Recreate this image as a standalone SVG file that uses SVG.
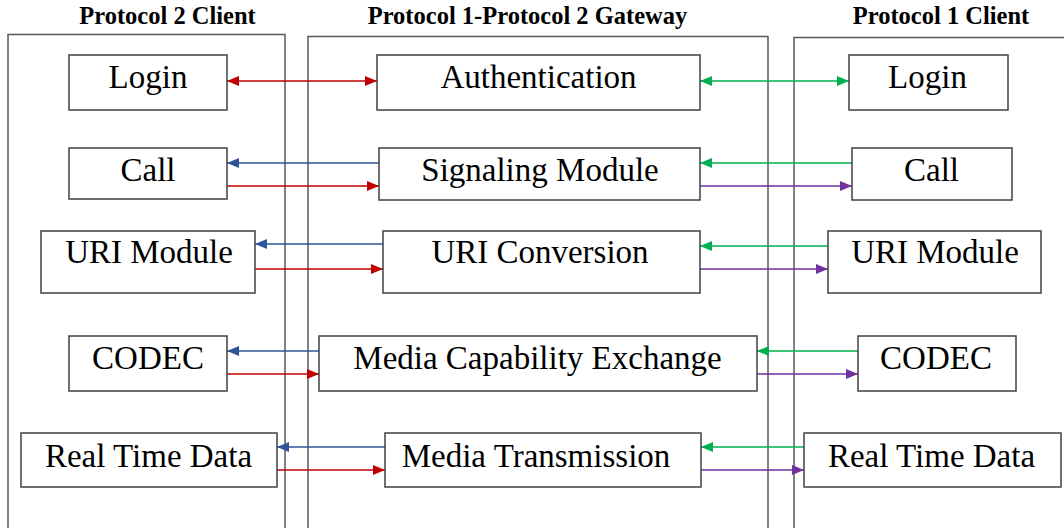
<svg xmlns="http://www.w3.org/2000/svg" width="1064" height="528" viewBox="0 0 1064 528">
<style>
.panel{fill:none;stroke:#595959;stroke-width:1.5}
.box{fill:#fff;stroke:#404040;stroke-width:1.5}
.hdr{font-family:"Liberation Serif","Times New Roman",serif;font-weight:bold;font-size:24.5px;fill:#000;text-anchor:middle}
.lbl{font-family:"Liberation Serif","Times New Roman",serif;font-size:33px;fill:#000;text-anchor:middle}
.r{stroke:#c00000;stroke-width:1.6;fill:none}
.b{stroke:#2f5597;stroke-width:1.6;fill:none}
.g{stroke:#00b050;stroke-width:1.6;fill:none}
.p{stroke:#7030a0;stroke-width:1.6;fill:none}
</style>
<defs>
<marker id="mr" markerUnits="userSpaceOnUse" markerWidth="12" markerHeight="10" refX="12" refY="5" orient="auto-start-reverse"><path d="M0,0L12,5L0,10z" fill="#c00000"/></marker>
<marker id="mb" markerUnits="userSpaceOnUse" markerWidth="12" markerHeight="10" refX="12" refY="5" orient="auto-start-reverse"><path d="M0,0L12,5L0,10z" fill="#2f5597"/></marker>
<marker id="mg" markerUnits="userSpaceOnUse" markerWidth="12" markerHeight="10" refX="12" refY="5" orient="auto-start-reverse"><path d="M0,0L12,5L0,10z" fill="#00b050"/></marker>
<marker id="mp" markerUnits="userSpaceOnUse" markerWidth="12" markerHeight="10" refX="12" refY="5" orient="auto-start-reverse"><path d="M0,0L12,5L0,10z" fill="#7030a0"/></marker>
</defs>
<rect width="1064" height="528" fill="#fff"/>
<g id="panels">
<rect class="panel" x="8" y="34.5" width="277" height="520"/>
<rect class="panel" x="308" y="36.5" width="460" height="520"/>
<rect class="panel" x="794" y="37.5" width="300" height="520"/>
<text class="hdr" x="167.5" y="24">Protocol 2 Client</text>
<text class="hdr" x="527.5" y="24">Protocol 1-Protocol 2 Gateway</text>
<text class="hdr" x="941" y="24">Protocol 1 Client</text>
</g>
<g id="connectors">
<line class="r" x1="227" y1="81" x2="377" y2="81" marker-start="url(#mr)" marker-end="url(#mr)"/>
<line class="g" x1="700" y1="81" x2="849" y2="81" marker-start="url(#mg)" marker-end="url(#mg)"/>
<line class="b" x1="379" y1="163" x2="227" y2="163" marker-end="url(#mb)"/>
<line class="r" x1="227" y1="186" x2="379" y2="186" marker-end="url(#mr)"/>
<line class="g" x1="852" y1="163" x2="700" y2="163" marker-end="url(#mg)"/>
<line class="p" x1="700" y1="186" x2="852" y2="186" marker-end="url(#mp)"/>
<line class="b" x1="383" y1="244" x2="255" y2="244" marker-end="url(#mb)"/>
<line class="r" x1="255" y1="269" x2="383" y2="269" marker-end="url(#mr)"/>
<line class="g" x1="828" y1="246" x2="700" y2="246" marker-end="url(#mg)"/>
<line class="p" x1="700" y1="269" x2="828" y2="269" marker-end="url(#mp)"/>
<line class="b" x1="319" y1="351" x2="227" y2="351" marker-end="url(#mb)"/>
<line class="r" x1="227" y1="374" x2="319" y2="374" marker-end="url(#mr)"/>
<line class="g" x1="858" y1="351" x2="757" y2="351" marker-end="url(#mg)"/>
<line class="p" x1="755" y1="374" x2="858" y2="374" marker-end="url(#mp)"/>
<line class="b" x1="385" y1="447" x2="277" y2="447" marker-end="url(#mb)"/>
<line class="r" x1="274" y1="470" x2="385" y2="470" marker-end="url(#mr)"/>
<line class="g" x1="804" y1="447" x2="701" y2="447" marker-end="url(#mg)"/>
<line class="p" x1="701" y1="470" x2="804" y2="470" marker-end="url(#mp)"/>
</g>
<g id="p2-login"><rect class="box" x="69" y="55" width="158" height="55"/><text class="lbl" x="148" y="88">Login</text></g>
<g id="p2-call"><rect class="box" x="69" y="148" width="158" height="51"/><text class="lbl" x="148" y="181">Call</text></g>
<g id="p2-uri"><rect class="box" x="41" y="231" width="214" height="62"/><text class="lbl" x="149" y="263">URI Module</text></g>
<g id="p2-codec"><rect class="box" x="69" y="336" width="158" height="55"/><text class="lbl" x="148" y="369">CODEC</text></g>
<g id="p2-rtd"><rect class="box" x="21" y="433" width="256" height="54"/><text class="lbl" x="148.5" y="467">Real Time Data</text></g>
<g id="gw-auth"><rect class="box" x="377" y="55" width="323" height="55"/><text class="lbl" x="538.5" y="88">Authentication</text></g>
<g id="gw-sig"><rect class="box" x="379" y="148" width="321" height="52"/><text class="lbl" x="540" y="181">Signaling Module</text></g>
<g id="gw-uri"><rect class="box" x="383" y="231" width="317" height="62"/><text class="lbl" x="540" y="263">URI Conversion</text></g>
<g id="gw-media"><rect class="box" x="319" y="336" width="438" height="55"/><text class="lbl" x="537.5" y="369">Media Capability Exchange</text></g>
<g id="gw-trans"><rect class="box" x="385" y="433" width="316" height="54"/><text class="lbl" x="536" y="467">Media Transmission</text></g>
<g id="p1-login"><rect class="box" x="849" y="55" width="159" height="55"/><text class="lbl" x="927.5" y="88">Login</text></g>
<g id="p1-call"><rect class="box" x="852" y="148" width="160" height="52"/><text class="lbl" x="931.5" y="181">Call</text></g>
<g id="p1-uri"><rect class="box" x="828" y="231" width="213" height="62"/><text class="lbl" x="935" y="263">URI Module</text></g>
<g id="p1-codec"><rect class="box" x="858" y="336" width="158" height="55"/><text class="lbl" x="936" y="369">CODEC</text></g>
<g id="p1-rtd"><rect class="box" x="804" y="433" width="257" height="54"/><text class="lbl" x="931.5" y="467">Real Time Data</text></g>
</svg>
